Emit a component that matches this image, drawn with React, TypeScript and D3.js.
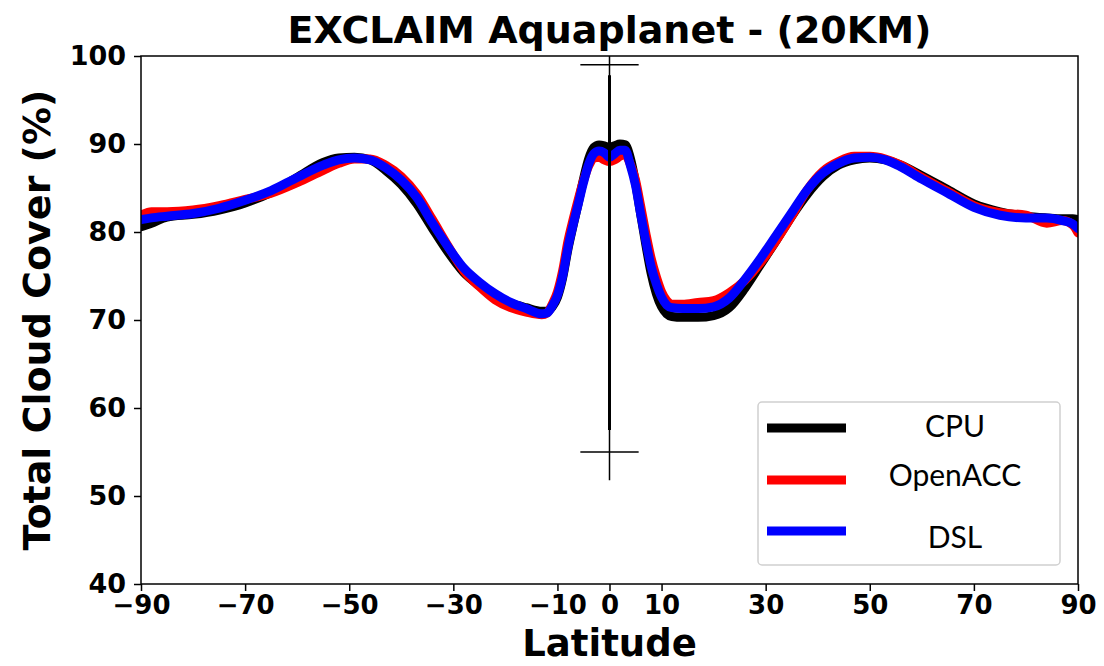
import React, { useEffect, useRef } from "react";
import * as d3 from "d3";

// latitude grid shared by all three runs
const latitudes = [
  -90, -88, -85, -80, -75, -70, -65, -60, -55, -52, -49, -46, -43, -40, -37, -34,
  -31, -28, -25, -22, -19, -16, -13, -12, -11, -10, -9, -8, -7, -6, -5, -4, -3,
  -2, -1, 0, 1, 2, 3, 4, 5, 6, 7, 8, 9, 10, 11, 12, 14, 17, 20, 23, 26, 29, 32,
  35, 38, 41, 44, 47, 50, 53, 56, 60, 65, 70, 75, 80, 84, 87, 89, 90,
];

const cpuCover = [
  80.6, 81.0, 81.7, 82.0, 82.5, 83.3, 84.5, 86.2, 87.9, 88.4, 88.5, 88.2, 87.0, 85.4, 83.2, 80.4,
  77.7, 75.4, 73.9, 72.7, 71.9, 71.4, 71.0, 71.0, 71.5, 72.6, 74.8, 78.0, 80.7, 83.3, 86.0, 88.3, 89.6,
  89.9, 89.8, 89.6, 89.8, 90.0, 89.9, 88.4, 85.6, 82.0, 78.5, 75.3, 73.0, 71.5, 70.7, 70.4, 70.3, 70.3, 70.5, 71.4, 73.6, 76.3, 79.0,
  81.8, 84.3, 86.3, 87.6, 88.2, 88.4, 88.2, 87.6, 86.4, 84.8, 83.2, 82.3, 81.8, 81.6, 81.5, 81.5, 81.4,
];

const openaccCover = [
  81.9, 82.3, 82.3, 82.5, 83.0, 83.7, 84.4, 85.6, 87.0, 87.8, 88.3, 88.3, 87.6, 86.3, 84.3, 81.4,
  78.4, 75.6, 73.8, 72.3, 71.4, 70.9, 70.6, 70.8, 71.8, 73.2, 75.6, 78.9, 81.4, 83.7, 85.8, 87.5, 88.4,
  88.5, 88.2, 88.0, 88.2, 88.6, 88.8, 87.7, 85.9, 82.9, 79.8, 77.0, 74.9, 73.2, 72.2, 71.8, 71.8, 72.0, 72.2, 73.1, 74.5, 76.5, 79.0,
  81.8, 84.8, 86.9, 88.0, 88.6, 88.6, 88.3, 87.6, 86.2, 84.6, 83.0, 82.2, 81.9, 81.0, 81.3, 80.8, 79.9,
];

const dslCover = [
  81.4, 81.6, 81.8, 82.1, 82.7, 83.6, 84.7, 86.2, 87.6, 88.2, 88.4, 88.2, 87.3, 85.9, 83.9, 81.0,
  78.3, 75.9, 74.3, 73.0, 72.0, 71.3, 70.7, 70.8, 71.6, 72.8, 75.0, 78.2, 80.8, 83.2, 85.6, 87.7, 88.9,
  89.2, 89.0, 88.5, 88.9, 89.3, 89.3, 87.6, 85.3, 82.0, 78.9, 76.1, 74.1, 72.6, 71.7, 71.4, 71.3, 71.3, 71.5, 72.5, 74.6, 77.0, 79.6,
  82.2, 84.8, 86.7, 87.8, 88.4, 88.5, 88.2, 87.4, 86.0, 84.4, 82.8, 81.9, 81.6, 81.6, 81.3, 80.9, 80.4,
];

const seriesNames = ["CPU", "OpenACC", "DSL"];
const seriesColors = ["black", "red", "blue"];

// the whisker drawn at the equator
const whiskerThin = [51.8, 100];
const whiskerThick = [57.5, 97.8];
const whiskerCaps = [99, 55];
const capHalfWidth = 5.6;

const xTicks = [-90, -70, -50, -30, -10, 0, 10, 30, 50, 70, 90];
const yTicks = [40, 50, 60, 70, 80, 90, 100];

function App() {
  const ref = useRef(null);

  useEffect(() => {
    const width = 1104;
    const height = 666;
    const margin = { top: 56, right: 26, bottom: 82, left: 141 };

    const svg = d3.select(ref.current);
    svg.selectAll("*").remove();

    const x = d3
      .scaleLinear()
      .domain([-90, 90])
      .range([margin.left, width - margin.right]);
    const y = d3
      .scaleLinear()
      .domain([40, 100])
      .range([height - margin.bottom, margin.top]);

    const font = "'DejaVu Sans', sans-serif";

    svg
      .append("defs")
      .append("clipPath")
      .attr("id", "plotclip")
      .append("rect")
      .attr("x", x(-90))
      .attr("y", y(100))
      .attr("width", x(90) - x(-90))
      .attr("height", y(40) - y(100));

    const all = [cpuCover, openaccCover, dslCover];

    const line = d3
      .line()
      .x((d) => x(d[0]))
      .y((d) => y(d[1]))
      .curve(d3.curveMonotoneX);

    const plot = svg.append("g").attr("clip-path", "url(#plotclip)");

    all.forEach((vals, i) => {
      const pts = latitudes.map((lat, j) => [lat, vals[j]]);
      plot
        .append("path")
        .attr("fill", "none")
        .attr("stroke", seriesColors[i])
        .attr("stroke-width", 9)
        .attr("stroke-linejoin", "round")
        .attr("stroke-linecap", "round")
        .attr("d", line(pts));
    });

    // equator whisker
    plot
      .append("line")
      .attr("x1", x(0))
      .attr("x2", x(0))
      .attr("y1", y(whiskerThin[0]))
      .attr("y2", y(whiskerThin[1]))
      .attr("stroke", "black")
      .attr("stroke-width", 1.5);
    plot
      .append("line")
      .attr("x1", x(0))
      .attr("x2", x(0))
      .attr("y1", y(whiskerThick[0]))
      .attr("y2", y(whiskerThick[1]))
      .attr("stroke", "black")
      .attr("stroke-width", 3);
    whiskerCaps.forEach((v) => {
      plot
        .append("line")
        .attr("x1", x(-capHalfWidth))
        .attr("x2", x(capHalfWidth))
        .attr("y1", y(v))
        .attr("y2", y(v))
        .attr("stroke", "black")
        .attr("stroke-width", 1.5);
    });

    // frame
    svg
      .append("rect")
      .attr("x", x(-90))
      .attr("y", y(100))
      .attr("width", x(90) - x(-90))
      .attr("height", y(40) - y(100))
      .attr("fill", "none")
      .attr("stroke", "black")
      .attr("stroke-width", 1.5);

    const xAxis = d3
      .axisBottom(x)
      .tickValues(xTicks)
      .tickSize(7)
      .tickPadding(5)
      .tickFormat((d) => String(d).replace("-", "\u2212"));

    svg
      .append("g")
      .attr("transform", `translate(0,${y(40)})`)
      .call(xAxis)
      .call((g) => g.select(".domain").remove())
      .call((g) => g.selectAll(".tick line").attr("stroke-width", 1.5))
      .call((g) =>
        g
          .selectAll(".tick text")
          .attr("fill", "black")
          .attr("font-family", font)
          .attr("font-weight", "bold")
          .attr("font-size", 26)
      );

    const yAxis = d3.axisLeft(y).tickValues(yTicks).tickSize(7).tickPadding(8);

    svg
      .append("g")
      .attr("transform", `translate(${x(-90)},0)`)
      .call(yAxis)
      .call((g) => g.select(".domain").remove())
      .call((g) => g.selectAll(".tick line").attr("stroke-width", 1.5))
      .call((g) =>
        g
          .selectAll(".tick text")
          .attr("fill", "black")
          .attr("font-family", font)
          .attr("font-weight", "bold")
          .attr("font-size", 27)
      );

    svg
      .append("text")
      .attr("x", (x(-90) + x(90)) / 2)
      .attr("y", 43)
      .attr("text-anchor", "middle")
      .attr("font-family", font)
      .attr("font-weight", "bold")
      .attr("font-size", 38)
      .text("EXCLAIM Aquaplanet - (20KM)");

    svg
      .append("text")
      .attr("x", (x(-90) + x(90)) / 2)
      .attr("y", 656)
      .attr("text-anchor", "middle")
      .attr("font-family", font)
      .attr("font-weight", "bold")
      .attr("font-size", 37)
      .text("Latitude");

    svg
      .append("text")
      .attr("transform", `translate(50,${(y(40) + y(100)) / 2}) rotate(-90)`)
      .attr("text-anchor", "middle")
      .attr("font-family", font)
      .attr("font-weight", "bold")
      .attr("font-size", 38)
      .text("Total Cloud Cover (%)");

    // legend
    const legend = svg.append("g");
    legend
      .append("rect")
      .attr("x", 758)
      .attr("y", 402)
      .attr("width", 302)
      .attr("height", 163)
      .attr("rx", 4)
      .attr("fill", "white")
      .attr("stroke", "#d0d0d0")
      .attr("stroke-width", 1.5);

    const rowY = [428, 480, 531];
    const textY = [437, 486, 548];
    seriesNames.forEach((name, i) => {
      legend
        .append("line")
        .attr("x1", 767)
        .attr("x2", 846)
        .attr("y1", rowY[i])
        .attr("y2", rowY[i])
        .attr("stroke", seriesColors[i])
        .attr("stroke-width", 9);
      legend
        .append("text")
        .attr("x", 955)
        .attr("y", textY[i])
        .attr("text-anchor", "middle")
        .attr("font-family", "Lato, 'Open Sans', sans-serif")
        .attr("font-size", 30)
        .attr("fill", "black")
        .text(name);
    });
  }, []);

  return (
    <svg
      ref={ref}
      width={1104}
      height={666}
      style={{ position: "absolute", left: 0, top: 0, background: "white" }}
    />
  );
}

export default App;
